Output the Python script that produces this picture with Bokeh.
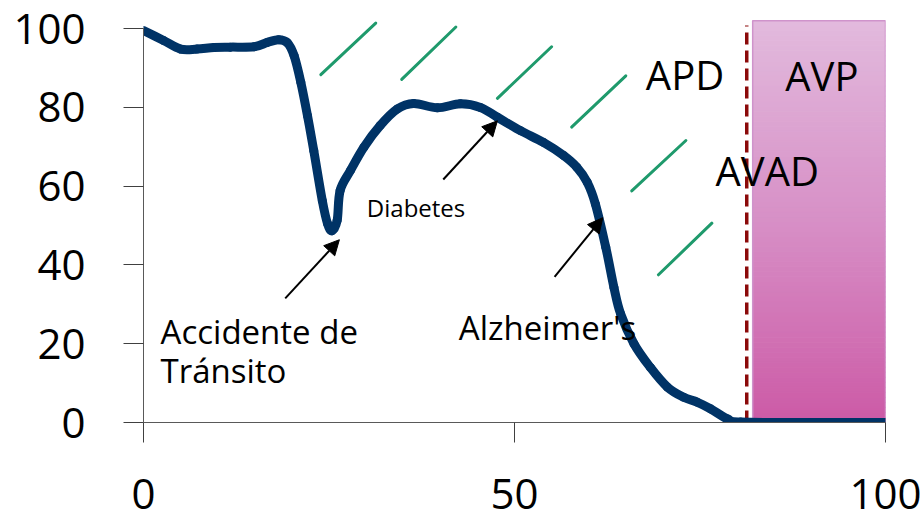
from bokeh.plotting import figure
from bokeh.models import FixedTicker, Arrow, NormalHead
from bokeh.core.properties import value
from bokeh.embed import file_html
from bokeh.resources import INLINE

# Health / functioning curve over a lifetime (age 0-100)
age = [0, 2.7, 5, 7.2, 9.5, 11.7, 14.9, 16.7, 18.2, 19.4, 20.3, 21.2, 22.1, 22.95,
       24.1, 24.8, 25.4, 26.1, 26.5, 27.9, 29.7, 31.9, 34.2, 36.4, 39.6, 42.7,
       45.4, 47.7, 50.8, 53.9, 56.6, 58.4, 59.8, 60.9, 62.3, 63.4, 64.3, 66.1,
       68.3, 70.6, 72.8, 74.6, 76.4, 78.7, 80.5, 90, 100]
health = [99.5, 97, 94.8, 94.8, 95.2, 95.3, 95.4, 96.5, 97.2, 96.4, 93.1, 86.4, 77.9, 69,
          56.3, 50.5, 48.7, 51.3, 58.9, 64, 69.9, 75.4, 79.6, 81, 79.9, 80.9,
          80, 77.5, 74.1, 71.1, 67.8, 64.8, 61, 55.5, 44.5, 34.3, 27.6, 20,
          14, 9, 6.4, 5.2, 3.5, 0.9, 0.1, 0, 0]

# Hatch strokes marking the disability-adjusted zone
hatch_x0 = [23.9, 34.8, 47.7, 57.7, 65.8, 69.4]
hatch_y0 = [88.3, 87.1, 82.3, 75.0, 58.8, 37.5]
hatch_x1 = [31.3, 42.1, 55.0, 65.0, 73.1, 76.6]
hatch_y1 = [101.4, 100.4, 95.4, 88.0, 71.6, 50.6]

# Life-expectancy marker and years-of-life-lost band
life_expectancy = 81.3
marker_top = 100.8
avp_left, avp_right, avp_top = 82.1, 100.0, 102.0

# Arrows: tail -> tip
arrow_x0 = [19.1, 40.4, 55.4]
arrow_y0 = [31.5, 61.7, 37.0]
arrow_x1 = [26.4, 47.7, 61.9]
arrow_y1 = [46.4, 76.6, 52.0]

big_labels = ["APD", "AVP", "AVAD"]
big_x = [67.7, 86.5, 77.1]
big_y = [88.3, 88.0, 64.1]

event_labels = ["Accidente de", "Tránsito", "Alzheimer's"]
event_x = [2.3, 2.3, 42.5]
event_y = [23.2, 13.1, 24.0]

small_labels = ["Diabetes"]
small_x = [30.1]
small_y = [54.5]

x_ticks = [0, 50, 100]
y_ticks = [0, 20, 40, 60, 80, 100]

FONT = "Open Sans"

p = figure(width=924, height=524, x_range=(0, 100), y_range=(0, 104.6),
           min_border_left=143, min_border_right=39, min_border_top=10,
           min_border_bottom=102, output_backend="svg", toolbar_location=None)
p.grid.visible = False
p.outline_line_color = None
p.background_fill_color = "white"
p.border_fill_color = "white"

for ax, ticks in ((p.xaxis, x_ticks), (p.yaxis, y_ticks)):
    ax.ticker = FixedTicker(ticks=ticks)
    ax.bounds = (0, 100)
    ax.minor_tick_line_color = None
    ax.major_tick_in = 0
    ax.major_tick_out = 20
    ax.axis_line_color = "#595959"
    ax.major_tick_line_color = "#404040"
    ax.major_label_text_font = FONT
    ax.major_label_text_font_size = "42px"
    ax.major_label_text_color = "black"
p.xaxis.major_label_standoff = 36
p.yaxis.major_label_standoff = 38

# Pink band for years of life lost, shaded light (top) to magenta (bottom)
top_rgb = (226, 186, 221)
mid_rgb = (215, 143, 198)
bot_rgb = (204, 90, 166)
n_bands = 80
band_b, band_t, band_c = [], [], []
for i in range(n_bands):
    f = (i + 0.5) / n_bands  # 0 at bottom, 1 at top
    if f < 0.5:
        g = f / 0.5
        c = [bot_rgb[k] + (mid_rgb[k] - bot_rgb[k]) * g for k in range(3)]
    else:
        g = (f - 0.5) / 0.5
        c = [mid_rgb[k] + (top_rgb[k] - mid_rgb[k]) * g for k in range(3)]
    band_b.append(avp_top * i / n_bands)
    band_t.append(avp_top * (i + 1) / n_bands)
    band_c.append("#%02x%02x%02x" % tuple(int(round(v)) for v in c))
p.quad(left=avp_left, right=avp_right, bottom=band_b, top=band_t,
       fill_color=band_c, line_color=band_c, line_width=1)
p.quad(left=[avp_left], right=[avp_right], bottom=[0], top=[avp_top],
       fill_color=None, line_color="#cf93cb", line_width=1.5)

# Hatching
p.segment(x0=hatch_x0, y0=hatch_y0, x1=hatch_x1, y1=hatch_y1,
          line_color="#1f9a6c", line_width=3, line_cap="round")

# Life expectancy marker
p.segment(x0=[life_expectancy], y0=[0], x1=[life_expectancy], y1=[marker_top],
          line_color="#8b0a0a", line_width=3.5, line_dash="12 6")

# Health curve, drawn as a smoothed path (Catmull-Rom through the points)
n = len(age)
bx0, by0, bx1, by1, cx0, cy0, cx1, cy1 = ([] for _ in range(8))
for i in range(n - 1):
    xa, ya = age[max(i - 1, 0)], health[max(i - 1, 0)]
    xb, yb = age[i], health[i]
    xc, yc = age[i + 1], health[i + 1]
    xd, yd = age[min(i + 2, n - 1)], health[min(i + 2, n - 1)]
    bx0.append(xb); by0.append(yb); bx1.append(xc); by1.append(yc)
    cx0.append(xb + (xc - xa) / 6); cy0.append(yb + (yc - ya) / 6)
    cx1.append(xc - (xd - xb) / 6); cy1.append(yc - (yd - yb) / 6)
p.bezier(x0=bx0, y0=by0, x1=bx1, y1=by1, cx0=cx0, cy0=cy0, cx1=cx1, cy1=cy1,
         line_color="#003366", line_width=9, line_cap="round")

# Arrows pointing at the events
for xs, ys, xe, ye in zip(arrow_x0, arrow_y0, arrow_x1, arrow_y1):
    p.add_layout(Arrow(end=NormalHead(size=15, fill_color="black", line_color="black"),
                       x_start=xs, y_start=ys, x_end=xe, y_end=ye,
                       line_color="black", line_width=2))

p.text(x=big_x, y=big_y, text=big_labels, text_font=value(FONT),
       text_font_size="40px", text_baseline="alphabetic", text_align="left",
       text_color="black")
p.text(x=event_x, y=event_y, text=event_labels, text_font=value(FONT),
       text_font_size="33px", text_baseline="alphabetic", text_align="left",
       text_color="black")
p.text(x=small_x, y=small_y, text=small_labels, text_font=value(FONT),
       text_font_size="24px", text_baseline="alphabetic", text_align="left",
       text_color="black")

open("out.html", "w").write(file_html(p, INLINE))
